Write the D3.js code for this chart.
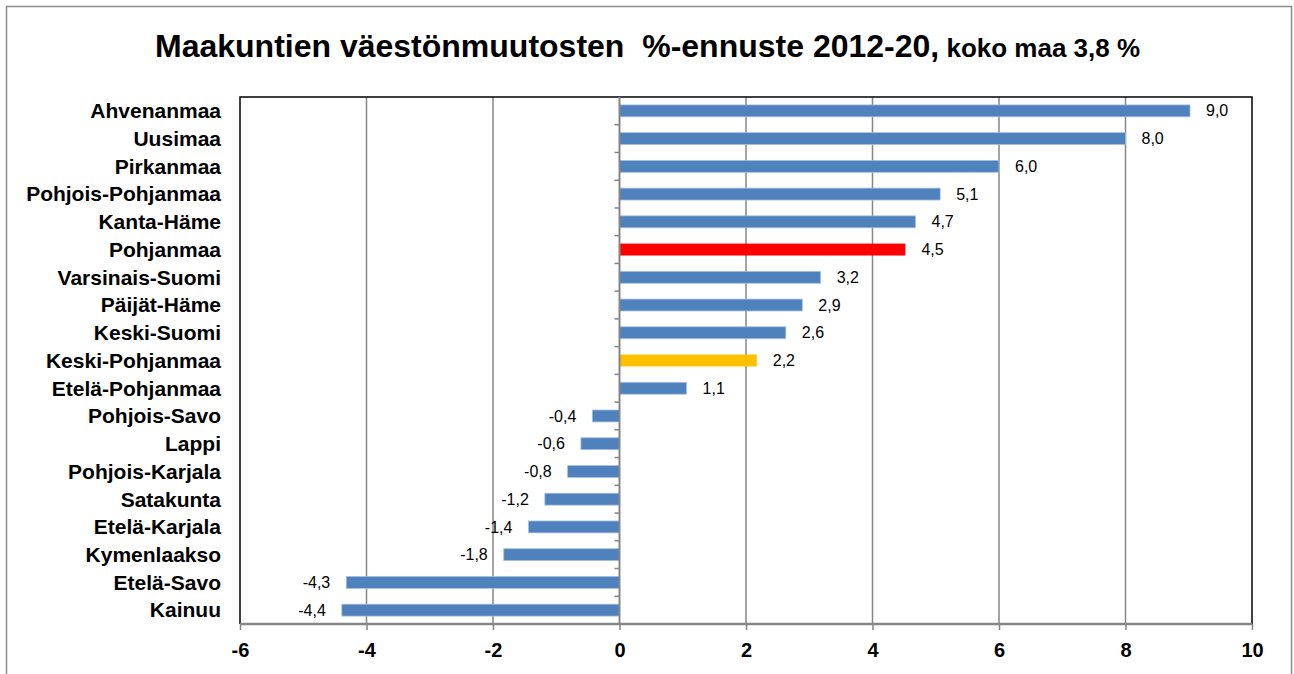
<!DOCTYPE html>
<html><head><meta charset="utf-8">
<script src="https://cdn.jsdelivr.net/npm/d3@7"></script>
<style>body{margin:0;background:#fff;}svg{display:block;font-family:"Liberation Sans",Arial,sans-serif;}</style>
</head><body>
<svg id="chart" width="1294" height="674"></svg>
<script>
const categories = ["Ahvenanmaa","Uusimaa","Pirkanmaa","Pohjois-Pohjanmaa","Kanta-Häme","Pohjanmaa","Varsinais-Suomi","Päijät-Häme","Keski-Suomi","Keski-Pohjanmaa","Etelä-Pohjanmaa","Pohjois-Savo","Lappi","Pohjois-Karjala","Satakunta","Etelä-Karjala","Kymenlaakso","Etelä-Savo","Kainuu"];
const values = [9.02,8.0,6.0,5.07,4.68,4.52,3.18,2.89,2.63,2.17,1.06,-0.43,-0.61,-0.82,-1.18,-1.44,-1.83,-4.32,-4.39];
const highlight = {"Pohjanmaa":"#FF0000","Keski-Pohjanmaa":"#FFC000"};
const xTicks = [-6,-4,-2,0,2,4,6,8,10];
const titleMain = "Maakuntien väestönmuutosten  %-ennuste 2012-20,";
const titleSub = " koko maa 3,8 %";

const svg = d3.select("#chart");
const m = {left:240, right:1252, top:97, bottom:624};
const x = d3.scaleLinear().domain([-6,10]).range([m.left,m.right]);
const y = d3.scaleBand().domain(categories).range([m.top,m.bottom]).paddingInner(0.57).paddingOuter(0.285);
const yRow = d3.scaleBand().domain(categories).range([m.top,m.bottom]);

// outer frame
svg.append("rect").attr("x",6.5).attr("y",6.5).attr("width",1285).attr("height",700)
  .attr("fill","none").attr("stroke","#8c8c8c").attr("stroke-width",1.5);

// title
const t = svg.append("text").attr("x",155).attr("y",57).attr("text-anchor","start").attr("font-weight","bold").attr("fill","#000")
  .attr("xml:space","preserve").style("white-space","pre");
t.append("tspan").attr("font-size",32).text(titleMain);
t.append("tspan").attr("font-size",26).text(titleSub);

// gridlines
svg.append("g").selectAll("line").data(xTicks.filter(d=>d!==-6 && d!==10 && d!==0)).join("line")
  .attr("x1",d=>x(d)).attr("x2",d=>x(d)).attr("y1",m.top).attr("y2",m.bottom)
  .attr("stroke","#868686").attr("stroke-width",1.5);

// plot border (left, top, right)
svg.append("path").attr("d",`M${m.left},${m.bottom}V${m.top}H${m.right}V${m.bottom}`)
  .attr("fill","none").attr("stroke","#000").attr("stroke-width",1.5);

// bars
svg.append("g").selectAll("rect").data(categories).join("rect")
  .attr("x",(d,i)=>x(Math.min(0,values[i])))
  .attr("width",(d,i)=>Math.abs(x(values[i])-x(0)))
  .attr("y",d=>y(d)).attr("height",y.bandwidth())
  .attr("fill",d=>highlight[d]||"#4F81BD")
  .attr("stroke",d=>highlight[d]?"none":"#A9C1E0").attr("stroke-width",0.8);

// zero axis with ticks
const zg = svg.append("g");
zg.append("line").attr("x1",x(0)).attr("x2",x(0)).attr("y1",m.top).attr("y2",m.bottom).attr("stroke","#868686").attr("stroke-width",2);
zg.selectAll("line.t").data(categories.slice(1)).join("line").attr("class","t")
  .attr("x1",x(0)-5).attr("x2",x(0)).attr("y1",d=>yRow(d)).attr("y2",d=>yRow(d))
  .attr("stroke","#868686").attr("stroke-width",1.5);

// x axis
const xa = svg.append("g").attr("transform",`translate(0,${m.bottom})`)
  .call(d3.axisBottom(x).tickValues(xTicks).tickSize(6).tickPadding(13).tickFormat(d3.format("d")));
xa.select(".domain").attr("stroke","#868686").attr("stroke-width",2.5).attr("d",`M${m.left},0H${m.right}`);
xa.selectAll(".tick line").attr("stroke","#868686").attr("stroke-width",1.5);
xa.selectAll(".tick text").attr("font-size",20).attr("font-weight","bold").attr("fill","#000").attr("font-family","Liberation Sans, Arial, sans-serif").text(d=>d<0?"-"+Math.abs(d):d);

// category labels
svg.append("g").selectAll("text").data(categories).join("text")
  .attr("x",221).attr("y",d=>yRow(d)+yRow.bandwidth()/2).attr("dy","0.35em")
  .attr("text-anchor","end").attr("font-size",21).attr("font-weight","bold").attr("fill","#000").text(d=>d);

// value labels
const fmt = v => d3.format(".1f")(v).replace(".",",").replace("−","-");
svg.append("g").selectAll("text").data(categories).join("text")
  .attr("x",(d,i)=>values[i]>=0 ? x(values[i])+16 : x(values[i])-16)
  .attr("y",d=>yRow(d)+yRow.bandwidth()/2).attr("dy","0.35em")
  .attr("text-anchor",(d,i)=>values[i]>=0?"start":"end")
  .attr("font-size",16).attr("fill","#000").text((d,i)=>fmt(values[i]));
</script>
</body></html>
